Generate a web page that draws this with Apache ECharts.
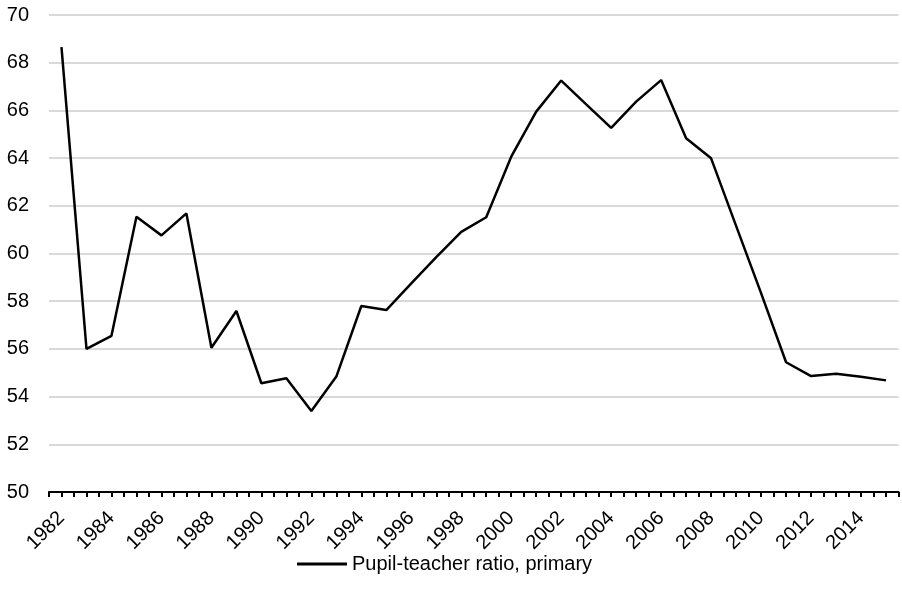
<!DOCTYPE html>
<html>
<head>
<meta charset="utf-8">
<script src="https://cdn.jsdelivr.net/npm/echarts@6/dist/echarts.min.js"></script>
<style>
html,body{margin:0;padding:0;background:#fff;}
#chart{width:902px;height:596px;}
</style>
</head>
<body>
<div id="chart"></div>
<script>
var years = ['1982','1983','1984','1985','1986','1987','1988','1989','1990','1991','1992','1993','1994','1995','1996','1997','1998','1999','2000','2001','2002','2003','2004','2005','2006','2007','2008','2009','2010','2011','2012','2013','2014','2015'];
var ratio = [68.65,56.0,56.55,61.54,60.76,61.68,56.05,57.59,54.56,54.77,53.40,54.84,57.8,57.63,58.75,59.85,60.91,61.52,64.06,65.95,67.25,66.25,65.27,66.37,67.27,64.83,63.99,61.16,58.34,55.44,54.86,54.96,54.83,54.68];
var seriesName = 'Pupil-teacher ratio, primary';
var yMin = 50, yMax = 70, yStep = 2;

var font = '"Liberation Sans", Arial, Helvetica, sans-serif';
var chart = echarts.init(document.getElementById('chart'));
chart.setOption({
  animation: false,
  backgroundColor: '#fff',
  grid: { left: 49, right: 3.5, top: 15, bottom: 104, containLabel: false },
  legend: {
    data: [{ name: seriesName, icon: 'rect' }],
    left: 292, top: 549,
    itemWidth: 50, itemHeight: 3,
    textStyle: { fontFamily: font, fontSize: 20, color: '#000' }
  },
  xAxis: [{
    type: 'category',
    data: years,
    boundaryGap: true,
    axisLine: { show: true, lineStyle: { color: '#000', width: 2 } },
    axisTick: { show: false },
    axisLabel: { interval: 1, rotate: 45, margin: 23, fontFamily: font, fontSize: 20, color: '#000' },
    splitLine: { show: false }
  }, {
    type: 'value',
    min: 0, max: years.length * 2, interval: 1,
    position: 'bottom',
    axisLine: { show: false },
    axisTick: { show: true, length: 5, lineStyle: { color: '#000', width: 2 } },
    axisLabel: { show: false },
    splitLine: { show: false }
  }],
  yAxis: {
    type: 'value',
    min: yMin, max: yMax, interval: yStep,
    axisLine: { show: false },
    axisTick: { show: false },
    axisLabel: { margin: 20, fontFamily: font, fontSize: 20, color: '#000' },
    splitLine: { show: true, lineStyle: { color: '#d9d9d9', width: 2 } }
  },
  series: [{
    name: seriesName,
    type: 'line',
    xAxisIndex: 0,
    data: ratio,
    showSymbol: false,
    symbol: 'none',
    itemStyle: { color: '#000' },
    lineStyle: { color: '#000', width: 2.5 }
  }]
});
</script>
</body>
</html>
